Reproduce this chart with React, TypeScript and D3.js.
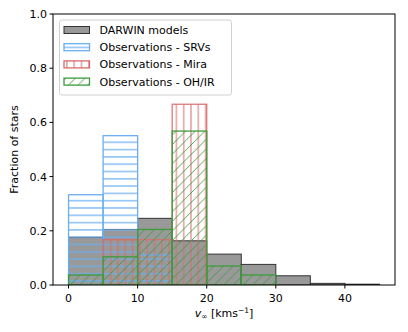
import React from 'react'
import { scaleLinear } from 'd3'

// bin edges in km/s, width 5
const binStarts = [0, 5, 10, 15, 20, 25, 30, 35, 40]
const binWidth = 5

// fraction of stars per bin
const darwin = [0.176, 0.205, 0.246, 0.163, 0.114, 0.076, 0.034, 0.006, 0.003]
const srvs = [0.333, 0.551, 0.111, 0, 0, 0, 0, 0, 0]
const mira = [0, 0.167, 0.167, 0.667, 0, 0, 0, 0, 0]
const ohir = [0.037, 0.104, 0.205, 0.568, 0.07, 0.037, 0, 0, 0]

const xTicks = [0, 10, 20, 30, 40]
const yTicks = [0, 0.2, 0.4, 0.6, 0.8, 1.0]
const legendLabels = ['DARWIN models', 'Observations - SRVs', 'Observations - Mira', 'Observations - OH/IR']

const W = 408
const H = 332
const m = { left: 53, right: 395, top: 14, bottom: 285 }
const font = 'DejaVu Sans, sans-serif'
const fs = 11

const blue = '#6aaef0'
const red = '#d86b6b'
const green = '#3c9c3c'

const App = () => {
  const x = scaleLinear().domain([-2.25, 47.25]).range([m.left, m.right])
  const y = scaleLinear().domain([0, 1]).range([m.bottom, m.top])

  const bars = (vals: number[], key: string, props: any) =>
    vals.map((v, i) => {
      const x0 = x(binStarts[i])
      const x1 = x(binStarts[i] + binWidth)
      return (
        <rect key={key + i} x={x0} y={y(v)} width={x1 - x0} height={y(0) - y(v)} {...props} />
      )
    })

  const legendStyles = [
    { fill: '#999', stroke: '#333', strokeWidth: 1 },
    { fill: 'url(#hatchH)', stroke: blue, strokeWidth: 1.3 },
    { fill: 'url(#hatchV)', stroke: red, strokeWidth: 1.3 },
    { fill: 'url(#hatchD)', stroke: green, strokeWidth: 1.3 },
  ]

  return (
    <div style={{ position: 'absolute', left: 0, top: 0 }}>
      <svg width={W} height={H} style={{ display: 'block', background: '#fff' }}>
        <defs>
          <pattern id="hatchH" patternUnits="userSpaceOnUse" width={8} height={7.3}>
            <line x1={0} x2={8} y1={3.6} y2={3.6} stroke={blue} strokeWidth={1.2} />
          </pattern>
          <pattern id="hatchV" patternUnits="userSpaceOnUse" width={7.3} height={8} x={m.left + 3}>
            <line x1={3.6} x2={3.6} y1={0} y2={8} stroke={red} strokeWidth={1.1} strokeOpacity={0.9} />
          </pattern>
          <pattern id="hatchD" patternUnits="userSpaceOnUse" width={9.6} height={9.6}>
            <line x1={-1} y1={10.6} x2={10.6} y2={-1} stroke={green} strokeWidth={0.9} />
          </pattern>
          <clipPath id="plot">
            <rect x={m.left} y={m.top} width={m.right - m.left} height={m.bottom - m.top} />
          </clipPath>
        </defs>

        <g clipPath="url(#plot)">
          {bars(darwin, 'd', { fill: '#999', stroke: '#333', strokeWidth: 1 })}
          {bars(srvs, 's', { fill: 'url(#hatchH)', stroke: blue, strokeWidth: 1.3 })}
          {bars(mira, 'm', { fill: 'url(#hatchV)', stroke: red, strokeWidth: 1.3, strokeOpacity: 0.9 })}
          {bars(ohir, 'o', { fill: 'url(#hatchD)', stroke: green, strokeWidth: 1.3 })}
        </g>

        {/* spines */}
        <rect x={m.left} y={m.top} width={m.right - m.left} height={m.bottom - m.top}
          fill="none" stroke="#000" strokeWidth={1} />

        {/* y axis */}
        {yTicks.map(t => (
          <g key={'y' + t}>
            <line x1={m.left - 3.5} x2={m.left} y1={y(t)} y2={y(t)} stroke="#000" />
            <text x={m.left - 6} y={y(t) + 4} textAnchor="end" fontFamily={font} fontSize={fs}>
              {t.toFixed(1)}
            </text>
          </g>
        ))}
        <text transform={`translate(18, ${(m.top + m.bottom) / 2}) rotate(-90)`} textAnchor="middle"
          fontFamily={font} fontSize={fs}>Fraction of stars</text>

        {/* x axis */}
        {xTicks.map(t => (
          <g key={'x' + t}>
            <line x1={x(t)} x2={x(t)} y1={m.bottom} y2={m.bottom + 3.5} stroke="#000" />
            <text x={x(t)} y={m.bottom + 16.5} textAnchor="middle" fontFamily={font} fontSize={fs}>{t}</text>
          </g>
        ))}
        <text x={(m.left + m.right) / 2} y={317} textAnchor="middle" fontFamily={font} fontSize={fs}>
          <tspan fontStyle="italic">v</tspan>
          <tspan fontSize={7.5} dy={2}>∞</tspan>
          <tspan dy={-2}> [kms</tspan>
          <tspan fontSize={7.5} dy={-4.5}>−1</tspan>
          <tspan dy={4.5}>]</tspan>
        </text>

        {/* legend */}
        <rect x={59.5} y={20} width={172} height={75} rx={2.5} fill="#fff" fillOpacity={0.8}
          stroke="#d0d0d0" strokeWidth={1} />
        {legendLabels.map((lab, i) => {
          const ly = 30 + i * 17.2
          return (
            <g key={lab}>
              <rect x={64} y={ly - 3.5} width={25.5} height={7} {...legendStyles[i]} />
              <text x={99.5} y={ly + 4} fontFamily={font} fontSize={fs}>{lab}</text>
            </g>
          )
        })}
      </svg>
    </div>
  )
}

export default App
